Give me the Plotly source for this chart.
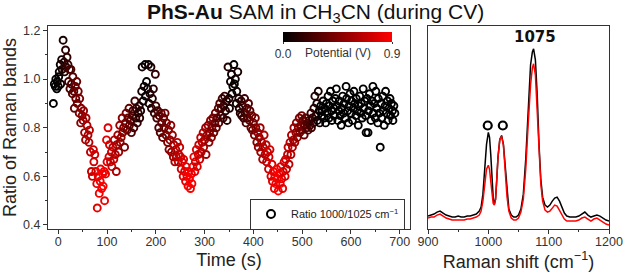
import plotly.graph_objects as go

# ---------------- CV scatter data ----------------
time_s = [
    -10, -8, -6, -5, -3, -2, 0, 1, 2, 4,
    5, 7, 8, 10, 12, 13, 15, 16, 18, 20,
    21, 23, 24, 26, 27, 29, 30, 32, 33, 35,
    36, 38, 39, 41, 43, 44, 46, 47, 49, 51,
    52, 54, 56, 57, 59, 61, 63, 64, 66, 68,
    70, 72, 73, 75, 77, 79, 80, 82, 84, 86,
    87, 89,
    91, 92, 94, 95, 97, 99, 100, 102, 104, 105,
    107, 109, 110, 112, 114, 115, 117, 119, 120, 122,
    124, 126, 127, 129, 131, 132, 134, 136, 138, 139,
    141, 143, 145, 146, 148, 150, 152, 153, 155, 157,
    159, 160, 162, 164, 166, 167, 169, 171, 172, 174,
    176, 178, 179, 181, 183, 185, 186, 188, 190, 191,
    193, 195, 197, 199, 200,
    202, 204, 206, 207, 209, 211, 212, 214, 216, 217,
    219, 221, 222, 224, 226, 227, 229, 231, 232, 234,
    236, 237, 239, 241, 242, 244, 246, 247, 249, 251,
    252, 254, 256, 257, 259, 261, 262, 264, 266, 267,
    269, 271, 273, 274,
    276, 278, 280, 281, 283, 285, 287, 288, 290, 292,
    293, 295, 297, 298, 300, 302, 303, 305, 307, 309,
    310, 312, 314, 315, 317, 319, 321, 322, 324, 326,
    328, 329, 331, 333, 334, 336, 338, 339, 341, 343,
    345, 346, 348, 350, 351, 353, 355, 356, 358, 360,
    361, 363, 365, 366, 368, 370, 371, 373,
    375, 376, 378, 380, 382, 383, 385, 387, 388, 390,
    392, 393, 395, 397, 398, 400, 402, 404, 405, 407,
    409, 410, 412, 414, 415, 417, 419, 420, 422, 424,
    426, 427, 429, 431, 432, 434, 436, 438, 439, 441,
    443, 444, 446, 448, 449, 451, 453, 455, 456, 458,
    460, 461, 463, 465, 466, 468, 470,
    471, 473, 475, 477, 478, 480, 482, 483, 485, 487,
    488, 490, 492, 494, 495, 497, 499, 500, 502, 504,
    505, 507, 509, 511, 512, 514, 516, 518, 519, 521,
    523, 524, 526, 528, 530, 531, 533, 535, 536, 538,
    540,
    541, 543, 545, 546, 548, 550, 551, 553, 555, 556,
    558, 560, 561, 563, 565, 566, 568, 570, 571, 573,
    575, 576, 578, 580, 581, 583, 585, 586, 588, 590,
    591, 593, 595, 596, 598, 600, 601, 603, 605, 606,
    608, 610, 611, 613, 615, 616, 618, 620, 621, 623,
    625, 626, 628, 630, 631, 633, 635, 636, 638, 640,
    641, 643, 645, 646, 648, 650, 651, 653, 655, 656,
    658, 660, 661, 663, 665, 666, 668, 670, 671, 673,
    675, 676, 678, 680, 681, 683, 685, 686, 688, 690,
]

ratio_1000_1025 = [
    0.90, 0.98, 0.97, 1.00, 0.96, 0.99, 0.97, 1.01, 1.03, 1.06,
    0.98, 1.08, 1.04, 1.16, 1.07, 1.03, 1.12, 1.05, 1.09, 1.06,
    0.99, 1.04, 0.96, 1.04, 0.98, 0.94, 1.01, 0.95, 0.88, 0.97,
    0.92, 0.99, 0.90, 0.95, 0.86, 0.92, 0.82, 0.88, 0.85, 0.83,
    0.87, 0.78, 0.75, 0.84, 0.81, 0.77, 0.74, 0.79, 0.70, 0.62,
    0.60, 0.71, 0.66, 0.69, 0.62, 0.57, 0.47, 0.60, 0.53, 0.58,
    0.63, 0.55,
    0.61, 0.56, 0.62, 0.50, 0.61, 0.75, 0.66, 0.80, 0.68, 0.73,
    0.66, 0.70, 0.64, 0.72, 0.67, 0.75, 0.69, 0.62, 0.73, 0.77,
    0.70, 0.81, 0.74, 0.76, 0.84, 0.78, 0.80, 0.72, 0.82, 0.86,
    0.79, 0.84, 0.88, 0.81, 0.83, 0.78, 0.85, 0.87, 0.80, 0.91,
    0.84, 0.88, 0.82, 0.86, 0.89, 0.84, 0.87, 0.95, 1.05, 0.91,
    0.97, 1.06, 0.93, 0.99, 0.96, 1.06, 0.90, 0.94, 1.05, 0.88,
    0.92, 0.96, 0.86, 1.02, 0.89,
    0.84, 0.87, 0.80, 0.85, 0.78, 0.86, 0.82, 0.76, 0.84, 0.80,
    0.86, 0.77, 0.82, 0.74, 0.79, 0.71, 0.75, 0.81, 0.70, 0.77,
    0.68, 0.73, 0.66, 0.71, 0.68, 0.74, 0.66, 0.69, 0.72, 0.68,
    0.63, 0.66, 0.60, 0.67, 0.62, 0.58, 0.64, 0.60, 0.56, 0.62,
    0.59, 0.55, 0.61, 0.57,
    0.64, 0.68, 0.62, 0.66, 0.71, 0.64, 0.69, 0.73, 0.67, 0.76,
    0.70, 0.74, 0.78, 0.72, 0.75, 0.80, 0.69, 0.77, 0.81, 0.74,
    0.78, 0.83, 0.76, 0.80, 0.84, 0.78, 0.82, 0.86, 0.80, 0.84,
    0.88, 0.82, 0.90, 0.85, 0.88, 0.92, 0.84, 0.89, 0.93, 0.87,
    0.91, 0.83, 1.05, 0.92, 0.88, 0.99, 1.02, 0.94, 0.97, 1.06,
    0.98, 1.00, 0.90, 0.95, 1.03, 0.92, 0.88, 0.86,
    0.91, 0.85, 0.89, 0.84, 0.92, 0.86, 0.82, 0.88, 0.84, 0.90,
    0.83, 0.87, 0.80, 0.85, 0.79, 0.82, 0.77, 0.84, 0.80, 0.74,
    0.78, 0.72, 0.76, 0.80, 0.70, 0.74, 0.67, 0.72, 0.77, 0.69,
    0.73, 0.66, 0.70, 0.63, 0.68, 0.71, 0.60, 0.65, 0.58, 0.62,
    0.55, 0.60, 0.57, 0.63, 0.59, 0.54, 0.61, 0.57, 0.64, 0.59,
    0.55, 0.62, 0.66, 0.60, 0.67, 0.63, 0.69,
    0.72, 0.65, 0.74, 0.69, 0.77, 0.72, 0.75, 0.80, 0.74, 0.78,
    0.82, 0.76, 0.80, 0.84, 0.78, 0.81, 0.85, 0.79, 0.83, 0.77,
    0.81, 0.84, 0.80, 0.82, 0.79, 0.83, 0.81, 0.86, 0.80, 0.84,
    0.82, 0.88, 0.93, 0.85, 0.90, 0.83, 0.95, 0.87, 0.82, 0.89,
    0.85,
    0.87, 0.91, 0.84, 0.88, 0.82, 0.90, 0.86, 0.93, 0.84, 0.89,
    0.95, 0.87, 0.83, 0.91, 0.88, 0.85, 0.92, 0.96, 0.89, 0.83,
    0.87, 0.91, 0.85, 0.81, 0.88, 0.93, 0.86, 0.90, 0.84, 0.97,
    0.92, 0.87, 0.82, 0.89, 0.94, 0.86, 0.91, 0.83, 0.88, 0.95,
    0.90, 0.85, 0.92, 0.87, 0.81, 0.89, 0.93, 0.86, 0.90, 0.84,
    0.96, 0.88, 0.91, 0.85, 0.78, 0.92, 0.78, 0.87, 0.94, 0.89,
    0.83, 0.91, 0.97, 0.86, 0.90, 0.84, 0.95, 0.88, 0.82, 0.92,
    0.86, 0.72, 0.90, 0.84, 0.93, 0.87, 0.81, 0.89, 0.95, 0.86,
    0.91, 0.83, 0.88, 0.92, 0.85, 0.90, 0.87, 0.83, 0.89, 0.86,
]

potential_v = [
    0.00, 0.00, 0.00, 0.00, 0.00, 0.00, 0.00, 0.01, 0.02, 0.04,
    0.05, 0.07, 0.08, 0.10, 0.12, 0.13, 0.15, 0.16, 0.18, 0.20,
    0.21, 0.23, 0.24, 0.26, 0.27, 0.29, 0.30, 0.32, 0.33, 0.35,
    0.36, 0.38, 0.39, 0.41, 0.43, 0.44, 0.46, 0.47, 0.49, 0.51,
    0.52, 0.54, 0.56, 0.57, 0.59, 0.61, 0.63, 0.64, 0.66, 0.68,
    0.70, 0.72, 0.73, 0.75, 0.77, 0.79, 0.80, 0.82, 0.84, 0.86,
    0.87, 0.89,
    0.89, 0.88, 0.86, 0.85, 0.83, 0.81, 0.80, 0.78, 0.76, 0.75,
    0.73, 0.71, 0.70, 0.68, 0.66, 0.65, 0.63, 0.61, 0.60, 0.58,
    0.56, 0.54, 0.53, 0.51, 0.49, 0.48, 0.46, 0.44, 0.42, 0.41,
    0.39, 0.37, 0.35, 0.34, 0.32, 0.30, 0.28, 0.27, 0.25, 0.23,
    0.21, 0.20, 0.18, 0.16, 0.14, 0.13, 0.11, 0.09, 0.08, 0.06,
    0.04, 0.02, 0.01, 0.01, 0.03, 0.05, 0.06, 0.08, 0.10, 0.11,
    0.13, 0.15, 0.17, 0.19, 0.20,
    0.22, 0.24, 0.26, 0.27, 0.29, 0.31, 0.32, 0.34, 0.36, 0.37,
    0.39, 0.41, 0.42, 0.44, 0.46, 0.47, 0.49, 0.51, 0.52, 0.54,
    0.56, 0.57, 0.59, 0.61, 0.62, 0.64, 0.66, 0.67, 0.69, 0.71,
    0.72, 0.74, 0.76, 0.77, 0.79, 0.81, 0.82, 0.84, 0.86, 0.87,
    0.89, 0.89, 0.87, 0.86,
    0.84, 0.82, 0.80, 0.79, 0.77, 0.75, 0.73, 0.72, 0.70, 0.68,
    0.67, 0.65, 0.63, 0.62, 0.60, 0.58, 0.57, 0.55, 0.53, 0.51,
    0.50, 0.48, 0.46, 0.45, 0.43, 0.41, 0.39, 0.38, 0.36, 0.34,
    0.32, 0.31, 0.29, 0.27, 0.26, 0.24, 0.22, 0.21, 0.19, 0.17,
    0.15, 0.14, 0.12, 0.10, 0.09, 0.07, 0.05, 0.04, 0.02, 0.00,
    0.01, 0.03, 0.05, 0.06, 0.08, 0.10, 0.11, 0.13,
    0.15, 0.16, 0.18, 0.20, 0.22, 0.23, 0.25, 0.27, 0.28, 0.30,
    0.32, 0.33, 0.35, 0.37, 0.38, 0.40, 0.42, 0.44, 0.45, 0.47,
    0.49, 0.50, 0.52, 0.54, 0.55, 0.57, 0.59, 0.60, 0.62, 0.64,
    0.66, 0.67, 0.69, 0.71, 0.72, 0.74, 0.76, 0.78, 0.79, 0.81,
    0.83, 0.84, 0.86, 0.88, 0.89, 0.89, 0.87, 0.85, 0.84, 0.82,
    0.80, 0.79, 0.77, 0.75, 0.74, 0.72, 0.70,
    0.69, 0.67, 0.65, 0.63, 0.62, 0.60, 0.58, 0.57, 0.55, 0.53,
    0.52, 0.50, 0.48, 0.46, 0.45, 0.43, 0.41, 0.40, 0.38, 0.36,
    0.35, 0.33, 0.31, 0.29, 0.28, 0.26, 0.24, 0.22, 0.21, 0.19,
    0.17, 0.16, 0.14, 0.12, 0.10, 0.09, 0.07, 0.05, 0.04, 0.02,
    0.00,
    0.00, 0.00, 0.00, 0.00, 0.00, 0.00, 0.00, 0.00, 0.00, 0.00,
    0.00, 0.00, 0.00, 0.00, 0.00, 0.00, 0.00, 0.00, 0.00, 0.00,
    0.00, 0.00, 0.00, 0.00, 0.00, 0.00, 0.00, 0.00, 0.00, 0.00,
    0.00, 0.00, 0.00, 0.00, 0.00, 0.00, 0.00, 0.00, 0.00, 0.00,
    0.00, 0.00, 0.00, 0.00, 0.00, 0.00, 0.00, 0.00, 0.00, 0.00,
    0.00, 0.00, 0.00, 0.00, 0.00, 0.00, 0.00, 0.00, 0.00, 0.00,
    0.00, 0.00, 0.00, 0.00, 0.00, 0.00, 0.00, 0.00, 0.00, 0.00,
    0.00, 0.00, 0.00, 0.00, 0.00, 0.00, 0.00, 0.00, 0.00, 0.00,
    0.00, 0.00, 0.00, 0.00, 0.00, 0.00, 0.00, 0.00, 0.00, 0.00,
]

# ---------------- Raman spectra (arbitrary intensity) ----------------
raman_shift = [
    900, 905, 910, 915, 920, 925, 930, 935, 940, 945,
    950, 955, 960, 965, 970, 975, 980, 985, 988, 991,
    994, 997, 1000, 1002, 1004, 1006, 1008, 1010, 1012, 1014,
    1016, 1019, 1022, 1025, 1028, 1031, 1034, 1038, 1042, 1046,
    1050, 1054, 1058, 1062, 1066, 1070, 1073, 1075, 1078, 1081,
    1084, 1087, 1090, 1094, 1098, 1102, 1106, 1110, 1114, 1118,
    1122, 1126, 1130, 1135, 1140, 1145, 1150, 1155, 1160, 1165,
    1170, 1175, 1180, 1185, 1190, 1195, 1200,
]
spectrum_0V = [
    13, 14, 15, 17, 18, 16, 14, 13, 12, 12,
    13, 12, 12, 13, 13, 14, 15, 18, 22, 35,
    60, 85, 97, 92, 75, 50, 32, 25, 30, 50,
    72, 90, 94, 85, 60, 35, 20, 14, 12, 12,
    14, 20, 35, 70, 120, 165, 178, 181, 170, 135,
    85, 50, 32, 24, 22, 24, 28, 31, 32, 28,
    22, 16, 13, 12, 12, 12, 13, 15, 17, 14,
    12, 13, 14, 13, 11, 9, 8,
]
spectrum_09V = [
    11, 12, 12, 14, 15, 13, 11, 10, 9, 9,
    9, 9, 9, 10, 10, 11, 12, 14, 18, 28,
    45, 60, 64, 60, 48, 35, 26, 24, 30, 50,
    72, 90, 93, 84, 58, 32, 18, 11, 9, 9,
    11, 17, 30, 60, 105, 145, 162, 166, 155, 122,
    78, 45, 28, 19, 17, 18, 21, 24, 23, 19,
    14, 10, 8, 8, 8, 8, 9, 11, 12, 10,
    8, 10, 11, 9, 7, 5, 4,
]
marked_bands = [999, 1024]
marked_level = [104, 104]
main_band_label = "1075"

FONT = "Liberation Sans, Arial, Helvetica, sans-serif"
AXC = "#333333"

fig = go.Figure()

fig.add_trace(go.Scatter(
    x=time_s, y=ratio_1000_1025, mode="markers", showlegend=False,
    marker=dict(symbol="circle-open", size=7, color=potential_v,
                colorscale=[[0, "#000000"], [1, "#ff0000"]], cmin=0, cmax=0.9,
                line=dict(width=1.9),
                colorbar=dict(orientation="h", x=0.54, xanchor="center",
                              y=1 - 32 / 275, yanchor="top", len=0.1744,
                              lenmode="fraction", thickness=10,
                              thicknessmode="pixels", tickvals=[0, 0.9],
                              ticktext=["0.0", "0.9"], ticks="outside",
                              ticklen=2, tickcolor=AXC, outlinewidth=0,
                              xpad=0, ypad=0,
                              tickfont=dict(size=12, color="#333", family=FONT))),
    xaxis="x", yaxis="y"))

# legend proxy
fig.add_trace(go.Scatter(
    x=[None], y=[None], mode="markers", name="Ratio 1000/1025 cm<sup>−1</sup>",
    marker=dict(symbol="circle-open", size=8, color="black", line=dict(width=2)),
    xaxis="x", yaxis="y"))

fig.add_trace(go.Scatter(x=raman_shift, y=spectrum_0V, mode="lines",
                         line=dict(color="black", width=1.5), showlegend=False,
                         xaxis="x2", yaxis="y2"))
fig.add_trace(go.Scatter(x=raman_shift, y=spectrum_09V, mode="lines",
                         line=dict(color="#ff0000", width=1.5), showlegend=False,
                         xaxis="x2", yaxis="y2"))
fig.add_trace(go.Scatter(x=marked_bands, y=marked_level, mode="markers",
                         marker=dict(symbol="circle-open", size=8, color="black",
                                     line=dict(width=2.2)),
                         showlegend=False, xaxis="x2", yaxis="y2"))

ydom = [1 - 229 / 275, 1 - 26 / 275]
axis_common = dict(showline=True, linecolor=AXC, linewidth=1, mirror=True,
                   ticks="outside", ticklen=4, tickcolor=AXC, showgrid=False,
                   zeroline=False, automargin=False,
                   tickfont=dict(size=12.5, color="#333", family=FONT))

fig.update_layout(
    width=625, height=275, margin=dict(l=0, r=0, t=0, b=0),
    plot_bgcolor="white", paper_bgcolor="white",
    font=dict(family=FONT, color="#222"),
    xaxis=dict(domain=[48 / 625, 410 / 625], range=[-21, 721], tick0=0, dtick=100,
               minor=dict(dtick=50, ticklen=2, ticks="outside", tickcolor=AXC),
               title=dict(text="Time (s)", font=dict(size=18), standoff=5),
               ticklabelstandoff=-3,
               **axis_common),
    yaxis=dict(domain=ydom, range=[0.3835, 1.2185], tick0=0.4, dtick=0.2,
               tickformat=".1f",
               minor=dict(dtick=0.1, ticklen=2, ticks="outside", tickcolor=AXC),
               title=dict(text="Ratio of Raman bands", font=dict(size=18), standoff=5),
               **axis_common),
    xaxis2=dict(domain=[428 / 625, 609 / 625], range=[900, 1200], tick0=900, dtick=100,
                anchor="y2",
                minor=dict(dtick=50, ticklen=2, ticks="outside", tickcolor=AXC),
                title=dict(text="Raman shift (cm<sup>−1</sup>)", font=dict(size=18), standoff=5),
                ticklabelstandoff=-3,
                **axis_common),
    yaxis2=dict(domain=ydom, range=[0, 204], anchor="x2", showline=True,
                linecolor=AXC, linewidth=1, mirror=True, ticks="", automargin=False,
                showticklabels=False, showgrid=False, zeroline=False),
    legend=dict(x=405 / 625, xanchor="right", y=1 - 214 / 275, yanchor="middle",
                bgcolor="white", bordercolor=AXC, borderwidth=1,
                font=dict(size=11, color="#222", family=FONT),
                itemwidth=30, tracegroupgap=0),
    annotations=[
        dict(text="<b>PhS-Au</b> SAM in CH<sub>3</sub>CN (during CV)",
             x=315 / 625, y=1 - 13 / 275, xref="paper", yref="paper",
             showarrow=False, font=dict(size=21, color="#111", family=FONT),
             xanchor="center", yanchor="middle"),
        dict(text="Potential (V)", x=337.5 / 625, y=1 - 53 / 275, xref="paper",
             yref="paper", showarrow=False, xanchor="center", yanchor="middle",
             font=dict(size=12, color="#333", family=FONT)),
        dict(text="<b>" + main_band_label + "</b>", x=1077, y=193, xref="x2", yref="y2",
             showarrow=False, xanchor="center", yanchor="middle",
             font=dict(size=15, color="#111", family="DejaVu Sans")),
    ],
)

fig.write_html("out.html", config={"displayModeBar": False},
               post_script="document.body.style.margin='0';document.body.style.overflow='hidden';")
